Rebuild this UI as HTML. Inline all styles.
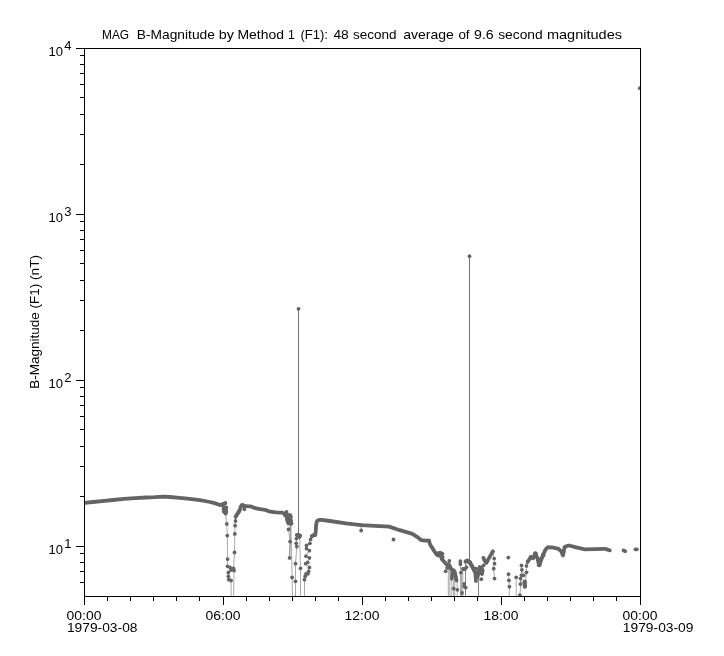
<!DOCTYPE html><html><head><meta charset="utf-8"><title>plot</title><style>html,body{margin:0;padding:0;background:#fff}svg{display:block;will-change:transform}text{font-family:"Liberation Sans",sans-serif;fill:#000}</style></head><body>
<svg width="724" height="656" viewBox="0 0 724 656">
<rect width="724" height="656" fill="#fff"/>
<defs><clipPath id="c"><rect x="84.5" y="48.5" width="556.0" height="548.0"/></clipPath></defs>
<g clip-path="url(#c)" fill="none" stroke="#646464" stroke-linejoin="round" stroke-linecap="round">
<g stroke-width="1.00" stroke-opacity="0.55">
<path d="M84.5 502.9 L93.0 502.0 L102.0 501.1 L113.0 500.0 L124.0 498.9 L135.0 498.1 L146.0 497.5 L155.0 497.2 L163.8 496.7 L170.0 497.0 L177.0 497.6 L185.0 498.4 L193.7 499.4 L200.0 500.2 L204.7 501.0 L210.0 502.0 L214.7 503.2 L217.5 504.1 L219.6 505.0 L221.5 504.8 L223.0 504.0 L225.2 503.2"/>
<path d="M225.2 503.2 L224.3 508.0 L224.8 510.0 L224.5 512.0 L226.3 511.8 L225.5 513.5 L226.8 523.9 L227.3 535.6 L227.6 559.1 L227.6 566.3 L230.1 567.5 L231.0 570.1 L228.4 572.5 L228.4 576.3 L228.8 579.7 L231.0 580.5 L231.3 604.0 L233.5 604.0 L234.0 570.5 L233.5 568.4 L234.5 552.5 L234.8 533.9 L235.1 525.7 L235.5 521.0 L235.6 516.8 L236.8 514.8 L238.2 512.6 L239.3 511.0 L240.7 506.8 L241.8 505.1 L243.0 505.5 L244.4 509.3 L244.4 506.3 L245.0 506.1"/>
<path d="M245.0 506.1 L250.2 506.3 L255.3 508.1 L260.0 509.2 L265.0 509.8 L270.0 511.7 L276.0 512.3 L281.8 512.6 L284.0 513.5 L285.1 515.1"/>
<path d="M285.1 515.1 L286.5 511.8 L287.0 514.0 L287.6 517.7 L287.2 520.0 L287.8 522.0 L288.5 523.5 L290.1 515.0 L289.6 517.5 L290.5 519.5 L290.0 521.5 L290.6 523.5 L291.5 523.5 L288.5 529.4 L290.1 541.6 L289.6 557.9 L290.8 523.5 L292.1 577.5 L292.6 604.0 L295.5 604.0 L295.5 581.3 L295.5 563.7 L296.8 546.6 L296.2 543.3 L296.5 538.6 L296.8 534.9 L297.5 535.3 L299.0 535.0 L300.2 535.6 L299.6 537.0 L300.5 568.3 L300.5 604.0 L304.5 604.0 L304.5 579.7 L305.2 576.3 L306.0 573.8 L308.0 573.8 L308.6 571.3 L309.4 567.4 L305.7 563.7 L307.7 562.4 L309.4 557.9 L306.0 556.2 L309.4 550.7 L306.5 548.7 L306.5 545.3 L309.9 543.3 L310.6 539.4 L311.9 536.1 L313.5 535.3 L315.3 534.9"/>
<path d="M298.5 308.8 L298.5 535.2"/>
<path d="M298.5 308.8 L298.5 535.2"/>
<path d="M298.5 308.8 L298.5 535.2"/>
<path d="M311.9 536.1 L313.5 535.3 L315.3 534.9 L315.8 530.2 L316.1 525.2 L316.6 522.5 L317.2 520.8 L318.5 520.1 L320.3 519.9 L321.7 519.8"/>
<path d="M321.7 519.8 L330.0 521.0 L345.9 523.3 L361.2 525.1 L375.0 525.9 L389.0 526.6 L399.8 530.2 L412.4 533.8 L417.0 536.8 L421.3 540.2 L425.0 540.5 L428.9 540.7"/>
<path d="M361.2 525.1 L361.2 530.5"/>
<path d="M428.9 540.8 L430.3 545.0 L432.5 548.2 L434.5 551.5 L436.3 554.0"/>
<path d="M436.5 554.5 L437.8 555.3"/>
<path d="M438.5 553.2 L440.0 552.8 L442.5 553.8"/>
<path d="M438.8 555.5 L442.6 557.0"/>
<path d="M441.6 558.7 L443.5 561.0 L444.9 562.6 L447.1 564.8 L449.5 567.2 L451.8 569.6 L454.0 570.5"/>
<path d="M448.8 564.5 L450.5 567.5"/>
<path d="M452.3 571.5 L451.8 578.6"/>
<path d="M454.9 572.0 L456.6 580.6"/>
<path d="M460.4 561.0 L460.4 564.5"/>
<path d="M462.9 569.0 L465.0 569.0"/>
<path d="M465.7 561.5 L467.5 560.6 L469.8 562.3"/>
<path d="M469.9 562.7 L472.5 567.0 L474.9 571.5"/>
<path d="M475.4 572.7 L475.9 581.0"/>
<path d="M477.5 577.0 L478.6 573.0 L479.7 567.0 L481.4 567.5 L482.6 570.0 L482.0 574.0 L480.2 572.0"/>
<path d="M483.4 557.8 L484.5 560.5 L486.3 563.0 L489.7 556.8 L492.8 551.4"/>
<path d="M492.9 551.4 L494.2 558.6 L494.5 563.7 L493.7 568.7 L494.5 578.6"/>
<path d="M448.3 566.0 L448.3 604.0"/>
<path d="M449.8 567.0 L449.8 604.0"/>
<path d="M451.8 570.0 L451.8 604.0"/>
<path d="M453.7 571.0 L453.7 604.0"/>
<path d="M454.7 573.0 L454.7 604.0"/>
<path d="M457.2 581.0 L457.2 604.0"/>
<path d="M460.5 561.0 L460.5 604.0"/>
<path d="M461.6 572.0 L461.6 604.0"/>
<path d="M462.8 569.0 L462.8 604.0"/>
<path d="M465.5 561.0 L465.5 604.0"/>
<path d="M465.5 561.0 L465.5 604.0"/>
<path d="M478.5 574.0 L478.5 604.0"/>
<path d="M478.5 574.0 L478.5 604.0"/>
<path d="M469.5 256.2 L469.5 562.0"/>
<path d="M469.5 256.2 L469.5 562.0"/>
<path d="M469.5 256.2 L469.5 562.0"/>
<path d="M508.5 574.2 L508.9 580.3 L509.4 586.7 L509.1 604.0"/>
<path d="M516.2 577.3 L516.2 604.0"/>
<path d="M519.9 595.2 L521.5 575.3 L521.5 565.4 L521.9 569.8 L523.7 575.3 L520.6 578.6 L520.4 584.1 L524.8 582.0 L524.8 586.4 L526.5 572.3 L526.5 565.9 L527.6 562.0"/>
<path d="M527.8 561.5 L530.9 557.1 L533.1 558.2 L535.3 553.2 L537.5 558.7 L539.2 565.4 L541.4 559.3 L543.1 554.9 L545.3 549.9 L548.0 547.1 L553.6 547.7 L558.5 548.8 L561.3 551.5 L563.0 555.4 L564.6 547.1 L566.8 546.0 L568.9 545.5 L577.2 547.7 L584.9 549.3 L604.8 548.8 L609.8 550.4"/>
<path d="M623.4 550.4 L625.2 551.2"/>
<path d="M635.4 549.3 L636.9 549.3"/>
</g>
<path d="M84.5 502.9 L93.0 502.0 L102.0 501.1 L113.0 500.0 L124.0 498.9 L135.0 498.1 L146.0 497.5 L155.0 497.2 L163.8 496.7 L170.0 497.0 L177.0 497.6 L185.0 498.4 L193.7 499.4 L200.0 500.2 L204.7 501.0 L210.0 502.0 L214.7 503.2 L217.5 504.1 L219.6 505.0 L221.5 504.8 L223.0 504.0 L225.2 503.2" stroke-width="3.8"/>
<path d="M235.8 516.5 L237.0 514.5 L238.4 512.4 L239.5 510.6 L240.7 507.0 L241.8 505.2 L243.2 505.2" stroke-width="3.8"/>
<path d="M245.0 506.1 L250.2 506.3 L255.3 508.1 L260.0 509.2 L265.0 509.8 L270.0 511.7 L276.0 512.3 L281.8 512.6 L284.0 513.5 L285.1 515.1" stroke-width="3.8"/>
<path d="M311.9 536.1 L313.5 535.3 L315.3 534.9 L315.8 530.2 L316.1 525.2 L316.6 522.5 L317.2 520.8 L318.5 520.1 L320.3 519.9 L321.7 519.8" stroke-width="3.8"/>
<path d="M321.7 519.8 L330.0 521.0 L345.9 523.3 L361.2 525.1 L375.0 525.9 L389.0 526.6 L399.8 530.2 L412.4 533.8 L417.0 536.8 L421.3 540.2 L425.0 540.5 L428.9 540.7" stroke-width="3.8"/>
<path d="M428.9 540.8 L430.3 545.0 L432.5 548.2 L434.5 551.5 L436.3 554.0" stroke-width="3.8"/>
<path d="M436.5 554.5 L437.8 555.3" stroke-width="3.8"/>
<path d="M438.5 553.2 L440.0 552.8 L442.5 553.8" stroke-width="3.8"/>
<path d="M438.8 555.5 L442.6 557.0" stroke-width="3.8"/>
<path d="M441.6 558.7 L443.5 561.0 L444.9 562.6 L447.1 564.8 L449.5 567.2 L451.8 569.6 L454.0 570.5" stroke-width="3.8"/>
<path d="M448.8 564.5 L450.5 567.5" stroke-width="3.8"/>
<path d="M452.3 571.5 L451.8 578.6" stroke-width="3.6"/>
<path d="M454.9 572.0 L456.6 580.6" stroke-width="3.6"/>
<path d="M460.4 561.0 L460.4 564.5" stroke-width="3.6"/>
<path d="M462.9 569.0 L465.0 569.0" stroke-width="3.8"/>
<path d="M465.7 561.5 L467.5 560.6 L469.8 562.3" stroke-width="4.2"/>
<path d="M469.9 562.7 L472.5 567.0 L474.9 571.5" stroke-width="4.2"/>
<path d="M475.4 572.7 L475.9 581.0" stroke-width="3.8"/>
<path d="M477.5 577.0 L478.6 573.0 L479.7 567.0 L481.4 567.5 L482.6 570.0 L482.0 574.0 L480.2 572.0" stroke-width="3.8"/>
<path d="M483.4 557.8 L484.5 560.5 L486.3 563.0 L489.7 556.8 L492.8 551.4" stroke-width="3.7"/>
<path d="M527.8 561.5 L530.9 557.1 L533.1 558.2 L535.3 553.2 L537.5 558.7 L539.2 565.4 L541.4 559.3 L543.1 554.9 L545.3 549.9 L548.0 547.1 L553.6 547.7 L558.5 548.8 L561.3 551.5 L563.0 555.4 L564.6 547.1 L566.8 546.0 L568.9 545.5 L577.2 547.7 L584.9 549.3 L604.8 548.8 L609.8 550.4" stroke-width="3.8"/>
<path d="M524.7 581.6 L524.9 586.6" stroke-width="4.2"/>
<path d="M623.4 550.4 L625.2 551.2" stroke-width="3.7"/>
<path d="M635.4 549.3 L636.9 549.3" stroke-width="3.7"/>
<g fill="#646464" stroke="none">
<circle cx="225.2" cy="503.2" r="1.9"/>
<circle cx="224.3" cy="508.0" r="1.9"/>
<circle cx="224.8" cy="510.0" r="1.9"/>
<circle cx="224.5" cy="512.0" r="1.9"/>
<circle cx="226.3" cy="511.8" r="1.9"/>
<circle cx="225.5" cy="513.5" r="1.9"/>
<circle cx="226.8" cy="523.9" r="1.9"/>
<circle cx="227.3" cy="535.6" r="1.9"/>
<circle cx="227.6" cy="559.1" r="1.9"/>
<circle cx="227.6" cy="566.3" r="1.9"/>
<circle cx="230.1" cy="567.5" r="1.9"/>
<circle cx="231.0" cy="570.1" r="1.9"/>
<circle cx="228.4" cy="572.5" r="1.9"/>
<circle cx="228.4" cy="576.3" r="1.9"/>
<circle cx="228.8" cy="579.7" r="1.9"/>
<circle cx="231.0" cy="580.5" r="1.9"/>
<circle cx="234.0" cy="570.5" r="1.9"/>
<circle cx="233.5" cy="568.4" r="1.9"/>
<circle cx="234.5" cy="552.5" r="1.9"/>
<circle cx="234.8" cy="533.9" r="1.9"/>
<circle cx="235.1" cy="525.7" r="1.9"/>
<circle cx="235.5" cy="521.0" r="1.9"/>
<circle cx="235.6" cy="516.8" r="1.9"/>
<circle cx="236.8" cy="514.8" r="1.9"/>
<circle cx="238.2" cy="512.6" r="1.9"/>
<circle cx="239.3" cy="511.0" r="1.9"/>
<circle cx="240.7" cy="506.8" r="1.9"/>
<circle cx="241.8" cy="505.1" r="1.9"/>
<circle cx="243.0" cy="505.5" r="1.9"/>
<circle cx="244.4" cy="509.3" r="1.9"/>
<circle cx="244.4" cy="506.3" r="1.9"/>
<circle cx="245.0" cy="506.1" r="1.9"/>
<circle cx="223.5" cy="509.0" r="1.9"/>
<circle cx="223.8" cy="511.5" r="1.9"/>
<circle cx="226.0" cy="509.5" r="1.9"/>
<circle cx="225.8" cy="513.0" r="1.9"/>
<circle cx="223.6" cy="507.0" r="1.9"/>
<circle cx="226.3" cy="507.5" r="1.9"/>
<circle cx="285.1" cy="515.1" r="1.9"/>
<circle cx="286.5" cy="511.8" r="1.9"/>
<circle cx="287.0" cy="514.0" r="1.9"/>
<circle cx="287.6" cy="517.7" r="1.9"/>
<circle cx="287.2" cy="520.0" r="1.9"/>
<circle cx="287.8" cy="522.0" r="1.9"/>
<circle cx="288.5" cy="523.5" r="1.9"/>
<circle cx="290.1" cy="515.0" r="1.9"/>
<circle cx="289.6" cy="517.5" r="1.9"/>
<circle cx="290.5" cy="519.5" r="1.9"/>
<circle cx="290.0" cy="521.5" r="1.9"/>
<circle cx="290.6" cy="523.5" r="1.9"/>
<circle cx="291.5" cy="523.5" r="1.9"/>
<circle cx="288.5" cy="529.4" r="1.9"/>
<circle cx="290.1" cy="541.6" r="1.9"/>
<circle cx="289.6" cy="557.9" r="1.9"/>
<circle cx="290.8" cy="523.5" r="1.9"/>
<circle cx="292.1" cy="577.5" r="1.9"/>
<circle cx="295.5" cy="581.3" r="1.9"/>
<circle cx="295.5" cy="563.7" r="1.9"/>
<circle cx="296.8" cy="546.6" r="1.9"/>
<circle cx="296.2" cy="543.3" r="1.9"/>
<circle cx="296.5" cy="538.6" r="1.9"/>
<circle cx="296.8" cy="534.9" r="1.9"/>
<circle cx="297.5" cy="535.3" r="1.9"/>
<circle cx="299.0" cy="535.0" r="1.9"/>
<circle cx="300.2" cy="535.6" r="1.9"/>
<circle cx="299.6" cy="537.0" r="1.9"/>
<circle cx="300.5" cy="568.3" r="1.9"/>
<circle cx="304.5" cy="579.7" r="1.9"/>
<circle cx="305.2" cy="576.3" r="1.9"/>
<circle cx="306.0" cy="573.8" r="1.9"/>
<circle cx="308.0" cy="573.8" r="1.9"/>
<circle cx="308.6" cy="571.3" r="1.9"/>
<circle cx="309.4" cy="567.4" r="1.9"/>
<circle cx="305.7" cy="563.7" r="1.9"/>
<circle cx="307.7" cy="562.4" r="1.9"/>
<circle cx="309.4" cy="557.9" r="1.9"/>
<circle cx="306.0" cy="556.2" r="1.9"/>
<circle cx="309.4" cy="550.7" r="1.9"/>
<circle cx="306.5" cy="548.7" r="1.9"/>
<circle cx="306.5" cy="545.3" r="1.9"/>
<circle cx="309.9" cy="543.3" r="1.9"/>
<circle cx="310.6" cy="539.4" r="1.9"/>
<circle cx="311.9" cy="536.1" r="1.9"/>
<circle cx="313.5" cy="535.3" r="1.9"/>
<circle cx="315.3" cy="534.9" r="1.9"/>
<circle cx="298.5" cy="308.8" r="1.9"/>
<circle cx="286.2" cy="516.5" r="1.9"/>
<circle cx="286.8" cy="519.0" r="1.9"/>
<circle cx="288.8" cy="519.0" r="1.9"/>
<circle cx="288.6" cy="521.0" r="1.9"/>
<circle cx="289.2" cy="516.5" r="1.9"/>
<circle cx="291.0" cy="517.0" r="1.9"/>
<circle cx="291.2" cy="521.0" r="1.9"/>
<circle cx="361.2" cy="525.1" r="1.9"/>
<circle cx="361.2" cy="530.5" r="1.9"/>
<circle cx="393.5" cy="539.5" r="1.9"/>
<circle cx="449.3" cy="561.0" r="1.9"/>
<circle cx="445.6" cy="571.3" r="1.9"/>
<circle cx="447.1" cy="568.1" r="1.9"/>
<circle cx="453.7" cy="588.6" r="1.9"/>
<circle cx="457.4" cy="589.8" r="1.9"/>
<circle cx="460.9" cy="572.6" r="1.9"/>
<circle cx="464.2" cy="583.8" r="1.9"/>
<circle cx="464.3" cy="586.4" r="1.9"/>
<circle cx="465.7" cy="587.6" r="1.9"/>
<circle cx="462.0" cy="593.0" r="1.9"/>
<circle cx="466.5" cy="567.2" r="1.9"/>
<circle cx="481.3" cy="579.2" r="1.9"/>
<circle cx="483.6" cy="565.4" r="1.9"/>
<circle cx="476.0" cy="568.7" r="1.9"/>
<circle cx="492.9" cy="551.4" r="1.9"/>
<circle cx="494.2" cy="558.6" r="1.9"/>
<circle cx="494.5" cy="563.7" r="1.9"/>
<circle cx="493.7" cy="568.7" r="1.9"/>
<circle cx="494.5" cy="578.6" r="1.9"/>
<circle cx="469.5" cy="256.2" r="1.9"/>
<circle cx="508.3" cy="557.6" r="1.9"/>
<circle cx="508.5" cy="574.2" r="1.9"/>
<circle cx="508.9" cy="580.3" r="1.9"/>
<circle cx="509.4" cy="586.7" r="1.9"/>
<circle cx="516.2" cy="577.3" r="1.9"/>
<circle cx="519.9" cy="595.2" r="1.9"/>
<circle cx="521.5" cy="575.3" r="1.9"/>
<circle cx="521.5" cy="565.4" r="1.9"/>
<circle cx="521.9" cy="569.8" r="1.9"/>
<circle cx="523.7" cy="575.3" r="1.9"/>
<circle cx="520.6" cy="578.6" r="1.9"/>
<circle cx="520.4" cy="584.1" r="1.9"/>
<circle cx="524.8" cy="582.0" r="1.9"/>
<circle cx="524.8" cy="586.4" r="1.9"/>
<circle cx="526.5" cy="572.3" r="1.9"/>
<circle cx="526.5" cy="565.9" r="1.9"/>
<circle cx="527.6" cy="562.0" r="1.9"/>
<circle cx="534.9" cy="553.6" r="1.9"/>
<circle cx="535.8" cy="553.4" r="1.9"/>
<circle cx="535.3" cy="554.6" r="1.9"/>
<circle cx="538.6" cy="565.0" r="1.9"/>
<circle cx="539.8" cy="564.8" r="1.9"/>
<circle cx="539.2" cy="563.5" r="1.9"/>
<circle cx="542.8" cy="554.8" r="1.9"/>
<circle cx="543.6" cy="555.4" r="1.9"/>
<circle cx="541.2" cy="558.3" r="1.9"/>
<circle cx="530.6" cy="556.9" r="1.9"/>
<circle cx="532.5" cy="557.6" r="1.9"/>
<circle cx="639.8" cy="88.2" r="1.9"/>
</g></g>
<path d="M84.5 48.5 H640.5 V596.5 H84.5 Z M85.0 582.5 h-5 M85.0 571.5 h-5 M85.0 562.5 h-5 M85.0 553.5 h-5 M85.0 546.5 h-9 M85.0 496.5 h-5 M85.0 466.5 h-5 M85.0 446.5 h-5 M85.0 429.5 h-5 M85.0 416.5 h-5 M85.0 405.5 h-5 M85.0 396.5 h-5 M85.0 387.5 h-5 M85.0 380.5 h-9 M85.0 330.5 h-5 M85.0 300.5 h-5 M85.0 280.5 h-5 M85.0 263.5 h-5 M85.0 250.5 h-5 M85.0 239.5 h-5 M85.0 230.5 h-5 M85.0 221.5 h-5 M85.0 214.5 h-9 M85.0 164.5 h-5 M85.0 134.5 h-5 M85.0 114.5 h-5 M85.0 97.5 h-5 M85.0 84.5 h-5 M85.0 73.5 h-5 M85.0 64.5 h-5 M85.0 55.5 h-5 M85.0 48.5 h-9 M84.5 596.0 v9 M107.5 596.0 v5 M130.5 596.0 v5 M153.5 596.0 v5 M176.5 596.0 v5 M199.5 596.0 v5 M223.5 596.0 v9 M246.5 596.0 v5 M269.5 596.0 v5 M292.5 596.0 v5 M315.5 596.0 v5 M338.5 596.0 v5 M362.5 596.0 v9 M385.5 596.0 v5 M408.5 596.0 v5 M431.5 596.0 v5 M454.5 596.0 v5 M477.5 596.0 v5 M501.5 596.0 v9 M524.5 596.0 v5 M547.5 596.0 v5 M570.5 596.0 v5 M593.5 596.0 v5 M616.5 596.0 v5 M640.5 596.0 v9" fill="none" stroke="#000" stroke-width="1" shape-rendering="crispEdges"/>
<text x="102.0" y="39" font-size="13" textLength="27.1" lengthAdjust="spacingAndGlyphs">MAG</text>
<text x="136.8" y="39" font-size="13" textLength="78.1" lengthAdjust="spacingAndGlyphs">B-Magnitude</text>
<text x="218.8" y="39" font-size="13" textLength="15.2" lengthAdjust="spacingAndGlyphs">by</text>
<text x="237.5" y="39" font-size="13" textLength="46.5" lengthAdjust="spacingAndGlyphs">Method</text>
<text x="288.1" y="39" font-size="13" textLength="6.8" lengthAdjust="spacingAndGlyphs">1</text>
<text x="300.4" y="39" font-size="13" textLength="27.6" lengthAdjust="spacingAndGlyphs">(F1):</text>
<text x="333.4" y="39" font-size="13" textLength="15.4" lengthAdjust="spacingAndGlyphs">48</text>
<text x="353.1" y="39" font-size="13" textLength="43.5" lengthAdjust="spacingAndGlyphs">second</text>
<text x="403.2" y="39" font-size="13" textLength="50.7" lengthAdjust="spacingAndGlyphs">average</text>
<text x="458.4" y="39" font-size="13" textLength="11.2" lengthAdjust="spacingAndGlyphs">of</text>
<text x="474.0" y="39" font-size="13" textLength="19.7" lengthAdjust="spacingAndGlyphs">9.6</text>
<text x="498.2" y="39" font-size="13" textLength="44.5" lengthAdjust="spacingAndGlyphs">second</text>
<text x="546.9" y="39" font-size="13" textLength="75.1" lengthAdjust="spacingAndGlyphs">magnitudes</text>
<text transform="translate(39.4,388.8) rotate(-90)" font-size="13" textLength="133.7" lengthAdjust="spacingAndGlyphs">B-Magnitude (F1) (nT)</text>
<text x="48.6" y="553.9" font-size="13" textLength="14.5" lengthAdjust="spacingAndGlyphs">10</text>
<text x="64.3" y="547.9" font-size="13">1</text>
<text x="48.6" y="387.9" font-size="13" textLength="14.5" lengthAdjust="spacingAndGlyphs">10</text>
<text x="64.3" y="381.9" font-size="13">2</text>
<text x="48.6" y="221.9" font-size="13" textLength="14.5" lengthAdjust="spacingAndGlyphs">10</text>
<text x="64.3" y="215.9" font-size="13">3</text>
<text x="48.6" y="55.9" font-size="13" textLength="14.5" lengthAdjust="spacingAndGlyphs">10</text>
<text x="64.3" y="49.9" font-size="13">4</text>
<text x="66.6" y="619.9" font-size="13" textLength="34.8" lengthAdjust="spacingAndGlyphs">00:00</text>
<text x="205.6" y="619.9" font-size="13" textLength="34.8" lengthAdjust="spacingAndGlyphs">06:00</text>
<text x="344.6" y="619.9" font-size="13" textLength="34.8" lengthAdjust="spacingAndGlyphs">12:00</text>
<text x="483.6" y="619.9" font-size="13" textLength="34.8" lengthAdjust="spacingAndGlyphs">18:00</text>
<text x="622.6" y="619.9" font-size="13" textLength="34.8" lengthAdjust="spacingAndGlyphs">00:00</text>
<text x="66.9" y="632" font-size="13" textLength="70.6" lengthAdjust="spacingAndGlyphs">1979-03-08</text>
<text x="622.8" y="632" font-size="13" textLength="70.7" lengthAdjust="spacingAndGlyphs">1979-03-09</text>
</svg></body></html>
